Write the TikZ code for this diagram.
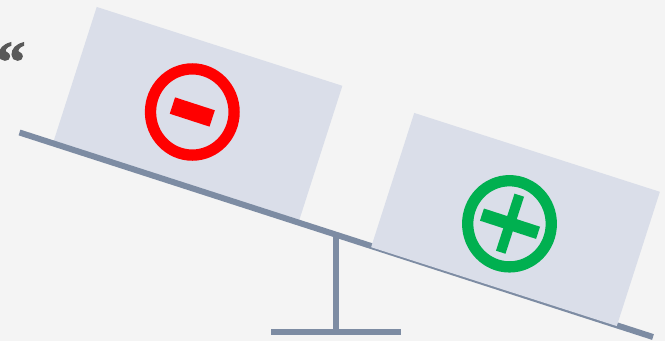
\documentclass[tikz,border=0pt]{standalone}
\usepackage{fontspec}
\newfontfamily\quotefont[BoldFeatures={FakeBold=2}]{Liberation Serif}
\usetikzlibrary{positioning,shapes.geometric}
\definecolor{ScaleBack}{HTML}{F4F4F4}
\definecolor{ScaleBox}{HTML}{DADEE9}
\definecolor{ScaleBeam}{HTML}{7D8CA3}
\definecolor{ScaleQuote}{HTML}{595959}
\definecolor{ScaleRed}{HTML}{FF0000}
\definecolor{ScaleGreen}{HTML}{00B050}
\tikzset{
  weightbox/.style={fill=ScaleBox, rotate=-17.8, inner sep=0pt, outer sep=0pt, minimum width=258pt, minimum height=141pt},
  signring/.style={ellipse, draw=#1, line width=11.3pt, inner sep=0pt, outer sep=0pt, minimum width=83.6pt, minimum height=86.2pt},
  signbar/.style={fill=#1, rotate=-18, inner sep=0pt, outer sep=0pt},
  scalebar/.style={draw=ScaleBeam, line width=6pt}
}
\begin{document}
\begin{tikzpicture}[x=1pt,y=-1pt]
  \useasboundingbox (0,0) rectangle (665,341);
  \fill[ScaleBack] (0,0) rectangle (665,341);
  \node[font=\quotefont\bfseries\fontsize{58}{58}\selectfont, text=ScaleQuote, inner sep=0pt] (quote) at (11,62) {“};
  % left side
  \node[weightbox] (minusbox) at (198,113.5) {};
  \coordinate (beamleft) at (19.5,132.5);
  \coordinate (beamright) at (653,337);
  \draw[scalebar] (beamleft) -- (beamright);
  % right side
  \node[weightbox] (plusbox) at (515.5,219.5) {};
  % stand
  \coordinate (pivot) at (336,234);
  \coordinate (standfoot) at (336,331.5);
  \coordinate (footleft) at (271,331.5);
  \coordinate (footright) at (401,331.5);
  \draw[scalebar] (pivot) -- (standfoot);
  \draw[scalebar] (footleft) -- (footright);
  % signs
  \node[signring=ScaleRed] (minusring) at (192.3,112) {};
  \node[signbar=ScaleRed, minimum width=41.8pt, minimum height=17.2pt] (minusbar) at (minusring) {};
  \node[signring=ScaleGreen] (plusring) at (509.5,223.8) {};
  \node[signbar=ScaleGreen, minimum width=59pt, minimum height=12.8pt] (plusbar) at (510,223.7) {};
  \node[signbar=ScaleGreen, minimum width=10pt, minimum height=60pt] (plusstem) at (510,223.7) {};
\end{tikzpicture}
\end{document}
